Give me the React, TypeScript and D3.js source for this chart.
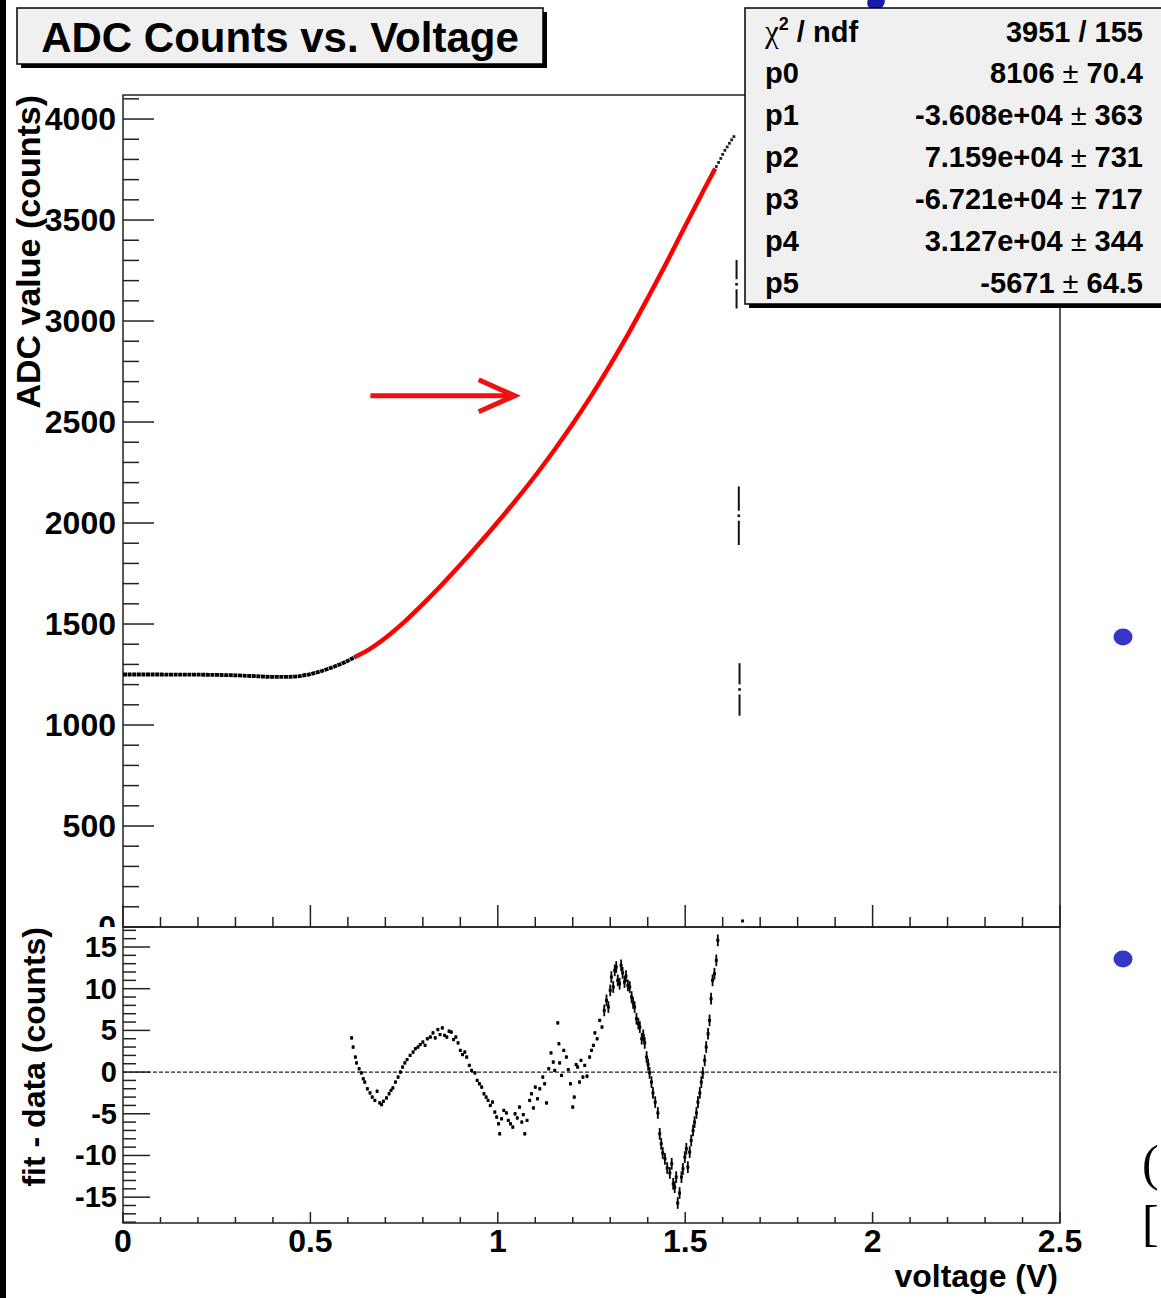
import React from "react"
import * as d3 from "d3"

// ADC readings left of the fit range (voltage V, ADC counts)
const plateauData: [number, number][] = [
  [0.0, 1250], [0.05, 1250], [0.1, 1250], [0.15, 1249], [0.2, 1249], [0.25, 1248],
  [0.3, 1246], [0.35, 1242], [0.4, 1238], [0.45, 1239], [0.5, 1252], [0.55, 1280],
  [0.6, 1318], [0.62, 1338]
]

// fitted curve (red)
const fitCurve: [number, number][] = [
  [0.62, 1338], [0.65, 1367], [0.7, 1431], [0.75, 1509], [0.8, 1598], [0.85, 1693],
  [0.9, 1793], [0.95, 1897], [1.0, 2005], [1.05, 2117], [1.1, 2234], [1.15, 2359],
  [1.2, 2491], [1.25, 2632], [1.3, 2783], [1.35, 2943], [1.4, 3113], [1.45, 3288],
  [1.5, 3470], [1.55, 3650], [1.58, 3755]
]

// readings past the fit range
const tailData: [number, number][] = [
  [1.583, 3765], [1.589, 3785], [1.595, 3805], [1.6, 3825], [1.606, 3845],
  [1.612, 3862], [1.618, 3880], [1.624, 3897], [1.63, 3913]
]

// stray readings with large errors (voltage, ADC, error)
const looseData: [number, number, number][] = [
  [1.637, 3182, 120], [1.643, 2036, 145], [1.645, 1176, 130]
]
const strayPoint: [number, number] = [1.653, 30]
const zeroRun: [number, number][] = [[1.66, 0], [2.5, 0]]

// annotation arrow pointing at the fit (voltage, ADC)
const arrowFrom: [number, number] = [0.66, 2630]
const arrowTo: [number, number] = [1.045, 2630]

// fit - data residuals
const residualsEarly: [number, number][] = [
  [0.61, 4.1], [0.614, 3.0], [0.62, 1.8], [0.623, 1.1], [0.63, 0.4], [0.636, -0.1],
  [0.641, -0.8], [0.645, -1.2], [0.652, -2.0], [0.659, -2.5], [0.665, -3.0], [0.672, -3.4],
  [0.678, -2.3], [0.685, -3.7], [0.69, -3.9], [0.695, -3.5], [0.703, -3.1], [0.71, -2.6],
  [0.715, -2.2], [0.72, -1.9], [0.727, -1.2], [0.734, -0.6], [0.74, 0.0], [0.746, 0.6],
  [0.752, 1.1], [0.758, 1.5], [0.766, 2.0], [0.774, 2.4], [0.78, 2.8], [0.787, 3.0],
  [0.793, 3.3], [0.8, 3.6], [0.806, 3.2], [0.812, 4.0], [0.82, 4.2], [0.827, 4.7],
  [0.833, 4.1], [0.84, 5.1], [0.846, 4.5], [0.852, 5.3], [0.858, 4.4], [0.864, 4.2],
  [0.87, 4.9], [0.876, 4.8], [0.882, 3.9], [0.888, 4.2], [0.894, 3.5], [0.9, 2.6],
  [0.906, 2.1], [0.912, 2.4], [0.917, 1.8], [0.924, 0.8], [0.93, 0.2], [0.939, -0.1],
  [0.945, -1.0], [0.951, -1.4], [0.957, -1.8], [0.963, -2.6], [0.969, -3.0], [0.974, -3.4],
  [0.98, -4.0], [0.986, -3.6], [0.992, -4.8], [0.997, -5.4], [1.002, -6.2], [1.005, -7.4],
  [1.01, -5.6], [1.016, -4.6], [1.023, -4.9], [1.028, -5.8], [1.034, -6.2], [1.04, -6.6],
  [1.046, -5.0], [1.052, -5.5], [1.058, -4.2], [1.064, -6.0], [1.068, -5.1], [1.072, -7.4],
  [1.078, -5.8], [1.085, -3.4], [1.09, -2.6], [1.095, -4.3], [1.1, -1.8], [1.106, -3.2],
  [1.112, -2.0], [1.12, -0.6], [1.125, -1.4], [1.13, -3.7], [1.136, 0.4], [1.142, 2.3],
  [1.148, 1.2], [1.152, 0.2], [1.16, 5.9], [1.163, 3.4], [1.165, 1.1], [1.17, -0.4],
  [1.176, 2.6], [1.183, 1.8], [1.188, 0.3], [1.194, -1.4], [1.2, -4.2], [1.204, -3.0],
  [1.209, 0.9], [1.213, 0.6], [1.218, -1.2], [1.222, 1.4], [1.227, -0.6], [1.232, 0.8],
  [1.238, -0.5], [1.245, 1.8], [1.25, 2.6], [1.255, 3.2], [1.259, 4.7], [1.265, 4.0],
  [1.272, 6.2], [1.278, 5.4]
]
const residualsLate: [number, number][] = [
  [1.284, 7.4], [1.29, 8.6], [1.295, 7.8], [1.3, 9.8], [1.303, 11.4], [1.308, 10.2],
  [1.312, 12.2], [1.316, 12.6], [1.32, 11.0], [1.325, 10.6], [1.329, 12.8], [1.333, 11.9],
  [1.338, 10.8], [1.342, 11.5], [1.347, 10.4], [1.352, 10.2], [1.357, 9.0], [1.361, 8.3],
  [1.365, 7.8], [1.37, 6.4], [1.375, 5.8], [1.379, 5.4], [1.384, 4.0], [1.388, 4.4],
  [1.392, 3.5], [1.397, 1.8], [1.401, 0.9], [1.405, -0.1], [1.41, -1.2], [1.414, -2.5],
  [1.42, -3.6], [1.427, -4.9], [1.432, -7.4], [1.436, -8.6], [1.44, -9.7], [1.446, -10.4],
  [1.452, -11.5], [1.459, -12.1], [1.464, -11.0], [1.468, -13.4], [1.472, -13.8], [1.476, -12.6],
  [1.48, -15.7], [1.485, -14.5], [1.49, -12.6], [1.494, -11.6], [1.499, -10.2], [1.503, -9.2],
  [1.507, -11.4], [1.512, -9.6], [1.516, -8.2], [1.521, -7.0], [1.525, -6.0], [1.53, -4.9],
  [1.534, -3.6], [1.539, -2.5], [1.543, -1.2], [1.547, -0.1], [1.552, 1.4], [1.556, 3.0],
  [1.561, 4.6], [1.565, 6.2], [1.569, 8.8], [1.573, 11.0], [1.578, 11.8], [1.583, 13.4],
  [1.587, 15.8]
]
const errEarly = 0.2
const errLate = 0.7

const adcTicks = [0, 500, 1000, 1500, 2000, 2500, 3000, 3500, 4000]
const voltTicks = [0, 0.5, 1, 1.5, 2, 2.5]
const residTicks = [-15, -10, -5, 0, 5, 10, 15]

const statLabels = ["p0", "p1", "p2", "p3", "p4", "p5"]
const statValues = ["8106", "-3.608e+04", "7.159e+04", "-6.721e+04", "3.127e+04", "-5671"]
const statErrors = ["70.4", "363", "731", "717", "344", "64.5"]
const chi2Text = "3951 / 155"

const FONT = "'Liberation Sans', Arial, Helvetica, sans-serif"

export default function App() {
  const x = d3.scaleLinear().domain([0, 2.5]).range([123, 1060])
  const y = d3.scaleLinear().domain([0, 4119]).range([927, 95])
  const yr = d3.scaleLinear().domain([-18.1, 17.4]).range([1223, 927])

  const line = d3.line<[number, number]>().x(d => x(d[0])).y(d => y(d[1])).curve(d3.curveMonotoneX)

  const minorAdc = d3.range(0, 4101, 100).filter(v => v % 500 !== 0)
  const minorVolt = d3.range(0, 26).map(i => i / 10).filter((v, i) => i % 5 !== 0)
  const minorResid = d3.range(-18, 18).filter(v => v % 5 !== 0)

  const resid = (data: [number, number][], err: number) =>
    data.map((d, i) => {
      const cx = x(d[0])
      const cy = yr(d[1])
      const e = Math.abs(yr(err) - yr(0))
      return (
        <g key={i}>
          {e > 1.5 && <line x1={cx} x2={cx} y1={cy - e} y2={cy + e} stroke="#000" strokeWidth={1.8} />}
          <rect x={cx - 1.5} y={cy - 1.5} width={3} height={3} fill="#000" />
        </g>
      )
    })

  const ax0 = x(arrowFrom[0])
  const ax1 = x(arrowTo[0])
  const ay = y(arrowTo[1])

  return (
    <svg width={1161} height={1298} style={{ position: "absolute", left: 0, top: 0, background: "#fff" }}
      fontFamily={FONT} fontWeight="bold">
      <defs>
        <clipPath id="upperPad">
          <rect x={0} y={0} width={1161} height={927} />
        </clipPath>
      </defs>
      <rect x={0} y={0} width={1161} height={1298} fill="#fff" />

      {/* upper pad */}
      <rect x={123} y={95} width={937} height={832} fill="none" stroke="#222" strokeWidth={1.5} />
      {adcTicks.map(v => (
        <g key={v}>
          <line x1={123} x2={154} y1={y(v)} y2={y(v)} stroke="#222" strokeWidth={1.5} />
          {v > 0 && <text x={116} y={y(v) + 11} textAnchor="end" fontSize={32}>{v}</text>}
        </g>
      ))}
      {/* the 0 label is half hidden under the lower pad */}
      <g clipPath="url(#upperPad)">
        <text x={116} y={y(0) + 11} textAnchor="end" fontSize={32}>0</text>
      </g>
      {minorAdc.map(v => (
        <line key={v} x1={123} x2={139} y1={y(v)} y2={y(v)} stroke="#222" strokeWidth={1.5} />
      ))}
      {voltTicks.map(v => (
        <line key={v} x1={x(v)} x2={x(v)} y1={927} y2={905} stroke="#222" strokeWidth={1.5} />
      ))}
      {minorVolt.map(v => (
        <line key={v} x1={x(v)} x2={x(v)} y1={927} y2={917} stroke="#222" strokeWidth={1.5} />
      ))}
      <text transform="translate(40,95) rotate(-90)" textAnchor="end" fontSize={34}>ADC value (counts)</text>

      <path d={line(plateauData) || ""} fill="none" stroke="#000" strokeWidth={3.8} strokeDasharray="4 0.6" />
      <path d={line(fitCurve) || ""} fill="none" stroke="#ff0000" strokeWidth={4.5} />
      {tailData.map((d, i) => (
        <rect key={i} x={x(d[0]) - 1.4} y={y(d[1]) - 1.4} width={2.8} height={2.8} fill="#222" />
      ))}
      {looseData.map((d, i) => {
        const cx = x(d[0])
        const cy = y(d[1])
        return (
          <g key={i}>
            <line x1={cx} x2={cx} y1={y(d[1] + d[2])} y2={cy - 5} stroke="#111" strokeWidth={2} />
            <line x1={cx} x2={cx} y1={cy + 5} y2={y(d[1] - d[2])} stroke="#111" strokeWidth={2} />
            <rect x={cx - 1.3} y={cy - 1.3} width={2.6} height={2.6} fill="#111" />
          </g>
        )
      })}
      <rect x={x(strayPoint[0]) - 1.5} y={y(strayPoint[1]) - 1.5} width={3} height={3} fill="#111" />
      <path d={`M${x(zeroRun[0][0])},${y(zeroRun[0][1]) + 1}L${x(zeroRun[1][0])},${y(zeroRun[1][1]) + 1}`}
        stroke="#111" strokeWidth={2.5} strokeDasharray="5 1" />

      {/* red annotation arrow */}
      <line x1={ax0} x2={ax1 - 6} y1={ay} y2={ay} stroke="#ee1111" strokeWidth={5} />
      <path d={`M${ax1 - 36},${ay - 16}L${ax1},${ay}L${ax1 - 36},${ay + 16}`} fill="none"
        stroke="#ee1111" strokeWidth={5} strokeLinejoin="miter" />

      {/* lower pad */}
      <rect x={7} y={928} width={1068} height={370} fill="#fff" />
      <rect x={123} y={927} width={937} height={296} fill="none" stroke="#222" strokeWidth={1.5} />
      {residTicks.map(v => (
        <g key={v}>
          <line x1={123} x2={150} y1={yr(v)} y2={yr(v)} stroke="#222" strokeWidth={1.5} />
          <text x={117} y={yr(v) + 10} textAnchor="end" fontSize={29}>{v}</text>
        </g>
      ))}
      {minorResid.map(v => (
        <line key={v} x1={123} x2={136} y1={yr(v)} y2={yr(v)} stroke="#222" strokeWidth={1.5} />
      ))}
      {voltTicks.map(v => (
        <g key={v}>
          <line x1={x(v)} x2={x(v)} y1={1223} y2={1212} stroke="#222" strokeWidth={1.5} />
          <text x={x(v)} y={1252} textAnchor="middle" fontSize={32}>{v}</text>
        </g>
      ))}
      {minorVolt.map(v => (
        <line key={v} x1={x(v)} x2={x(v)} y1={1223} y2={1217} stroke="#222" strokeWidth={1.5} />
      ))}
      <line x1={123} x2={1060} y1={yr(0)} y2={yr(0)} stroke="#222" strokeWidth={1.4} strokeDasharray="4 2" />
      {resid(residualsEarly, errEarly)}
      {resid(residualsLate, errLate)}
      <text transform="translate(45,927) rotate(-90)" textAnchor="end" fontSize={32}>fit - data (counts)</text>
      <text x={1058} y={1287} textAnchor="end" fontSize={32}>voltage (V)</text>

      {/* title box */}
      <rect x={21} y={12} width={526} height={56} fill="#000" />
      <rect x={17} y={8} width={526} height={56} fill="#f0f0f0" stroke="#000" strokeWidth={1.5} />
      <text x={280} y={52} textAnchor="middle" fontSize={42}>ADC Counts vs. Voltage</text>

      {/* slide fragments */}
      <ellipse cx={876} cy={2} rx={9} ry={8} fill="#1a1aa8" transform="rotate(-30,876,2)" />

      {/* stats box */}
      <rect x={749} y={12} width={430} height={296} fill="#000" />
      <rect x={745} y={8} width={430} height={296} fill="#f0f0f0" stroke="#000" strokeWidth={1.5} />
      <text x={765} y={42} fontSize={29}>
        <tspan fontFamily="'Liberation Serif', serif" fontWeight="normal" fontSize={31}>χ</tspan>
        <tspan dy={-12} fontSize={18}>2</tspan>
        <tspan dy={12}> / ndf</tspan>
      </text>
      <text x={1143} y={42} textAnchor="end" fontSize={29}>{chi2Text}</text>
      {statLabels.map((l, i) => (
        <g key={l}>
          <text x={765} y={83 + i * 42} fontSize={29}>{l}</text>
          <text x={1143} y={83 + i * 42} textAnchor="end" fontSize={29}>
            {statValues[i]}
            <tspan fontWeight="normal"> ± </tspan>
            {statErrors[i]}
          </text>
        </g>
      ))}

      <ellipse cx={1123} cy={637} rx={9.5} ry={8.5} fill="#3535c8" />
      <ellipse cx={1123} cy={959} rx={9.5} ry={8.5} fill="#3535c8" />
      <text x={1142} y={1180} fontFamily="'Liberation Serif', serif" fontWeight="normal" fontSize={50}>(</text>
      <text x={1142} y={1240} fontFamily="'Liberation Serif', serif" fontWeight="normal" fontSize={50}>[</text>

      <rect x={0} y={0} width={6} height={1298} fill="#000" />
    </svg>
  )
}
